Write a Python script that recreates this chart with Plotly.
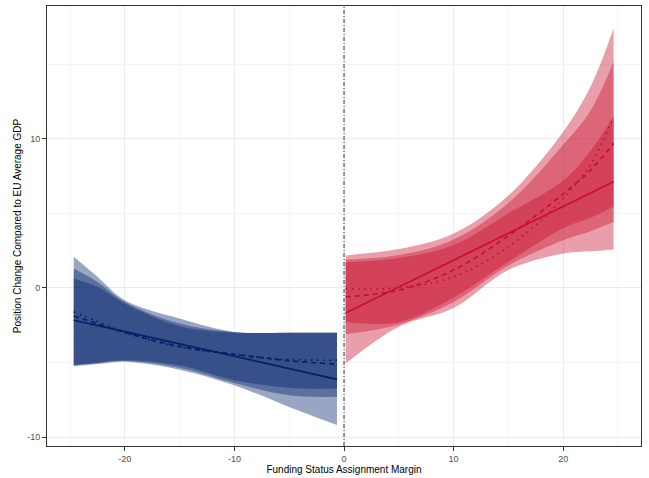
import plotly.graph_objects as go

# ---------------- data ----------------
# Left side (not funded): x grid
x_left = [-24.66, -22.5, -20, -15, -10, -5, -0.64]
left_lin = [-2.17, -2.52, -2.93, -3.75, -4.58, -5.41, -6.13]
left_quad = [-1.88, -2.40, -3.00, -3.92, -4.45, -4.88, -5.12]
left_cub = [-1.61, -2.25, -2.98, -3.97, -4.47, -4.80, -4.85]
left_lin_lo = [-5.25, -5.10, -4.95, -5.48, -6.53, -7.98, -9.20]
left_lin_hi = [0.63, 0.07, -1.05, -2.57, -3.00, -3.00, -3.00]
left_quad_lo = [-5.20, -5.05, -4.90, -5.35, -6.37, -7.20, -7.30]
left_quad_hi = [1.30, 0.40, -0.94, -2.39, -2.97, -3.00, -3.00]
left_cub_lo = [-5.15, -5.00, -4.85, -5.19, -6.19, -6.69, -6.75]
left_cub_hi = [2.08, 0.74, -0.83, -2.06, -2.95, -3.00, -3.00]

# Right side (funded): x grid
x_right = [0.15, 5, 10, 15, 20, 22.5, 24.6]
right_lin = [-1.68, 0.06, 1.86, 3.66, 5.46, 6.36, 7.11]
right_quad = [-0.60, -0.15, 1.20, 3.50, 6.30, 7.90, 9.69]
right_cub = [-0.05, 0.00, 0.74, 2.75, 6.00, 8.30, 11.45]
right_lin_lo = [-5.07, -2.60, -1.35, 1.20, 2.30, 2.45, 2.58]
right_lin_hi = [1.72, 2.00, 2.87, 5.00, 7.20, 9.20, 11.50]
right_quad_lo = [-3.10, -2.45, -0.95, 1.50, 3.20, 3.80, 4.43]
right_quad_hi = [1.90, 2.20, 3.25, 5.70, 9.60, 11.90, 15.17]
right_cub_lo = [-2.28, -2.30, -0.65, 1.75, 4.00, 4.70, 5.44]
right_cub_hi = [2.18, 2.60, 3.65, 6.20, 10.47, 13.50, 17.40]

x_ticks = [-20, -10, 0, 10, 20]
x_ticktext = ["-20", "-10", "0", "10", "20"]
y_ticks = [-10, 0, 10]
y_ticktext = ["-10", "0", "10"]
x_title = "Funding Status Assignment Margin"
y_title = "Position Change Compared to EU Average GDP"

# ---------------- styles ----------------
BLUE = "#012169"
RED = "#C8102E"
BLUE_FILL = "rgba(1,33,105,0.4)"
RED_FILL = "rgba(200,16,46,0.4)"
FONT = "Liberation Sans, Arial, sans-serif"

fig = go.Figure()


def add_band(x, lo, hi, fill):
    fig.add_trace(go.Scatter(x=x, y=lo, mode="lines", line=dict(width=0, shape="spline"),
                             hoverinfo="skip", showlegend=False))
    fig.add_trace(go.Scatter(x=x, y=hi, mode="lines", line=dict(width=0, shape="spline"),
                             fill="tonexty", fillcolor=fill, hoverinfo="skip", showlegend=False))


def add_line(x, y, color, dash):
    fig.add_trace(go.Scatter(x=x, y=y, mode="lines",
                             line=dict(color=color, width=1.7, dash=dash, shape="spline"),
                             hoverinfo="skip", showlegend=False))


add_band(x_left, left_lin_lo, left_lin_hi, BLUE_FILL)
add_band(x_left, left_quad_lo, left_quad_hi, BLUE_FILL)
add_band(x_left, left_cub_lo, left_cub_hi, BLUE_FILL)
add_band(x_right, right_lin_lo, right_lin_hi, RED_FILL)
add_band(x_right, right_quad_lo, right_quad_hi, RED_FILL)
add_band(x_right, right_cub_lo, right_cub_hi, RED_FILL)

add_line(x_left, left_lin, BLUE, "solid")
add_line(x_left, left_quad, BLUE, "5px,4px")
add_line(x_left, left_cub, BLUE, "1.6px,4.5px")
add_line(x_right, right_lin, RED, "solid")
add_line(x_right, right_quad, RED, "5px,4px")
add_line(x_right, right_cub, RED, "1.6px,4.5px")

fig.add_shape(type="line", x0=0, x1=0, xref="x", y0=0, y1=1, yref="paper",
              line=dict(color="#333333", width=1, dash="4px,2px,1px,2px"), layer="above")

axis_common = dict(
    showgrid=True, gridcolor="#EBEBEB", gridwidth=1,
    zeroline=False, showline=True, linecolor="#333333", linewidth=1, mirror=True,
    ticks="outside", ticklen=4, tickcolor="#333333", tickwidth=1,
    tickfont=dict(family=FONT, size=9, color="#4D4D4D"),
)

fig.update_layout(
    width=649, height=478,
    margin=dict(l=47, r=8, t=6, b=32),
    paper_bgcolor="white", plot_bgcolor="white",
    showlegend=False,
    font=dict(family=FONT),
    xaxis=dict(range=[-27.1, 27.1], tickmode="array", tickvals=x_ticks, ticktext=x_ticktext,
               minor=dict(tickvals=[-25, -15, -5, 5, 15, 25], showgrid=True,
                          gridcolor="#F4F4F4", gridwidth=0.6, ticks=""),
               title=dict(text=x_title, font=dict(family=FONT, size=10, color="black"), standoff=2),
               automargin=False, **axis_common),
    yaxis=dict(range=[-10.6, 18.9], tickmode="array", tickvals=y_ticks, ticktext=y_ticktext,
               minor=dict(tickvals=[-5, 5, 15], showgrid=True,
                          gridcolor="#F4F4F4", gridwidth=0.6, ticks=""),
               title=dict(text=y_title, font=dict(family=FONT, size=10, color="black"), standoff=3),
               automargin=False, **axis_common),
)

fig.write_html("out.html", config={"displayModeBar": False},
               post_script="document.body.style.margin='0';document.body.style.overflow='hidden';")
